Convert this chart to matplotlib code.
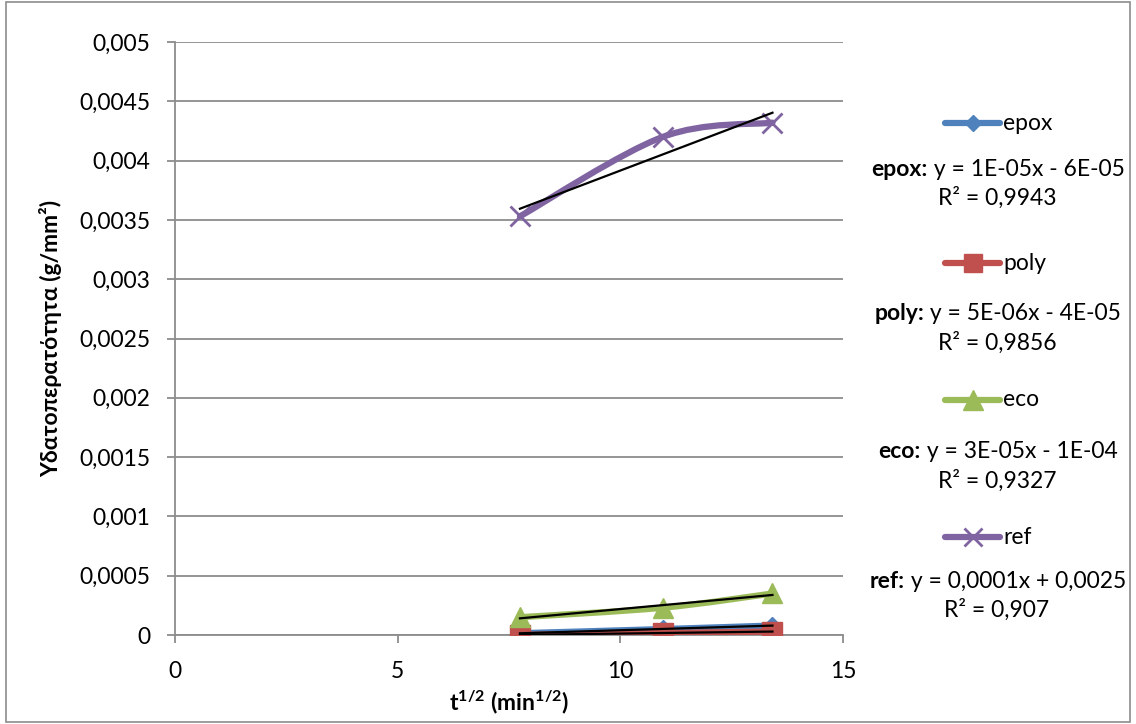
import numpy as np
import matplotlib
matplotlib.use("Agg")
import matplotlib.pyplot as plt
from matplotlib.path import Path
from matplotlib.patches import PathPatch, Rectangle
from matplotlib.lines import Line2D

plt.rcParams['font.family'] = ['Lato', 'DejaVu Sans']
plt.rcParams['mathtext.fontset'] = 'custom'
plt.rcParams['mathtext.rm'] = 'Lato'
plt.rcParams['mathtext.it'] = 'Lato:italic'
plt.rcParams['mathtext.bf'] = 'Lato:bold'

# data: x = sqrt(t), y = water permeability
x_vals = [7.746, 10.954, 13.416]
epox = [0.000015, 0.00005, 0.00008]
poly = [0.000001, 0.000017, 0.000029]
eco = [0.00015, 0.00023, 0.00035]
ref = [0.00353, 0.0042, 0.00432]

series_names = ['epox', 'poly', 'eco', 'ref']
series_colors = ['#4F81BD', '#C0504D', '#9BBB59', '#8064A2']
series_markers = ['D', 's', '^', 'x']
marker_sizes = [9, 14, 15, 14]
trend_texts = [
    ('epox:', ' y = 1E-05x - 6E-05', 'R² = 0,9943'),
    ('poly:', ' y = 5E-06x - 4E-05', 'R² = 0,9856'),
    ('eco:', ' y = 3E-05x - 1E-04', 'R² = 0,9327'),
    ('ref:', ' y = 0,0001x + 0,0025', 'R² = 0,907'),
]

y_ticks = [0, 0.0005, 0.001, 0.0015, 0.002, 0.0025, 0.003, 0.0035, 0.004, 0.0045, 0.005]
y_tick_labels = ['0', '0,0005', '0,001', '0,0015', '0,002', '0,0025', '0,003',
                 '0,0035', '0,004', '0,0045', '0,005']
x_ticks = [0, 5, 10, 15]

FS = 16.5


def smooth_path(xs, ys):
    # Excel-style smoothed line: cubic Bezier through the points
    pts = np.column_stack([xs, ys])
    n = len(pts)
    verts = [pts[0]]
    codes = [Path.MOVETO]
    for i in range(n - 1):
        p0 = pts[max(i - 1, 0)]
        p1 = pts[i]
        p2 = pts[i + 1]
        p3 = pts[min(i + 2, n - 1)]
        c1 = p1 + (p2 - p0) / 6.0
        c2 = p2 - (p3 - p1) / 6.0
        verts += [c1, c2, p2]
        codes += [Path.CURVE4] * 3
    return Path(verts, codes)


fig = plt.figure(figsize=(11.36, 7.24), dpi=100)
W, H = 1136, 724
ax = fig.add_axes([175 / W, 1 - 635 / H, (843 - 175) / W, (635 - 42) / H])

all_series = [epox, poly, eco, ref]
for ys, col, mk, ms in zip(all_series, series_colors, series_markers, marker_sizes):
    ax.add_patch(PathPatch(smooth_path(x_vals, ys), facecolor='none', edgecolor=col,
                           lw=4.5, capstyle='round', zorder=3))
    ax.plot(x_vals, ys, linestyle='none', marker=mk, markersize=ms, color=col,
            markeredgecolor=col, markeredgewidth=2 if mk == 'x' else 1, zorder=4)

# linear trendlines
for ys in all_series:
    k, b = np.polyfit(x_vals, ys, 1)
    xx = np.array([x_vals[0], x_vals[-1]])
    ax.plot(xx, k * xx + b, color='black', lw=1.6, zorder=5)

ax.set_xlim(0, 15)
ax.set_ylim(0, 0.005)
ax.set_xticks(x_ticks)
ax.set_yticks(y_ticks)
ax.set_yticklabels(y_tick_labels)
ax.grid(axis='y', color='#8c8c8c', lw=1.3)
ax.set_axisbelow(True)
for s in ['top', 'right']:
    ax.spines[s].set_visible(False)
for s in ['left', 'bottom']:
    ax.spines[s].set_color('#8c8c8c')
    ax.spines[s].set_linewidth(1.3)
ax.tick_params(axis='both', colors='#8c8c8c', width=1.3, length=6, labelsize=FS,
               labelcolor='black')
ax.tick_params(axis='y', pad=12)
ax.tick_params(axis='x', pad=13)
ax.set_ylabel('Υδατοπερατότητα (g/mm²)', fontsize=FS, fontweight='bold',
              family='Lato', labelpad=12)
ax.set_xlabel(r'$\mathbf{t^{1/2}\ (min^{1/2})}$', fontsize=FS, labelpad=4)

# legend with trendline equations
entry_y = [123, 263, 400, 537]
eq_y = [170, 314, 452, 582]
r2_y = [198, 343, 481, 610]
renderer = fig.canvas.get_renderer()
for i in range(4):
    yy = 1 - entry_y[i] / H
    fig.add_artist(Line2D([945 / W, 1000 / W], [yy, yy], color=series_colors[i], lw=4.5,
                          solid_capstyle='round', transform=fig.transFigure))
    fig.add_artist(Line2D([972.5 / W], [yy], marker=series_markers[i],
                          markersize=marker_sizes[i] - 1, color=series_colors[i],
                          markeredgewidth=2 if series_markers[i] == 'x' else 1,
                          transform=fig.transFigure))
    fig.text(1003 / W, yy, series_names[i], fontsize=FS, va='center', ha='left')
    name, eq, r2 = trend_texts[i]
    ye = 1 - eq_y[i] / H
    t_name = fig.text(0, ye, name, fontsize=FS, fontweight='bold', family='Lato',
                      va='center', ha='left')
    t_eq = fig.text(0, ye, eq, fontsize=FS, va='center', ha='left')
    w1 = t_name.get_window_extent(renderer).width
    w2 = t_eq.get_window_extent(renderer).width
    x0 = 998 - (w1 + w2) / 2
    t_name.set_x(x0 / W)
    t_eq.set_x((x0 + w1) / W)
    fig.text(997 / W, 1 - r2_y[i] / H, r2, fontsize=FS, va='center', ha='center')

fig.add_artist(Rectangle((6 / W, 2 / H), 1 - 12 / W, 1 - 4 / H, transform=fig.transFigure,
                         facecolor='none', edgecolor='#8c8c8c', lw=1.2))

fig.savefig('out.png', dpi=100)
